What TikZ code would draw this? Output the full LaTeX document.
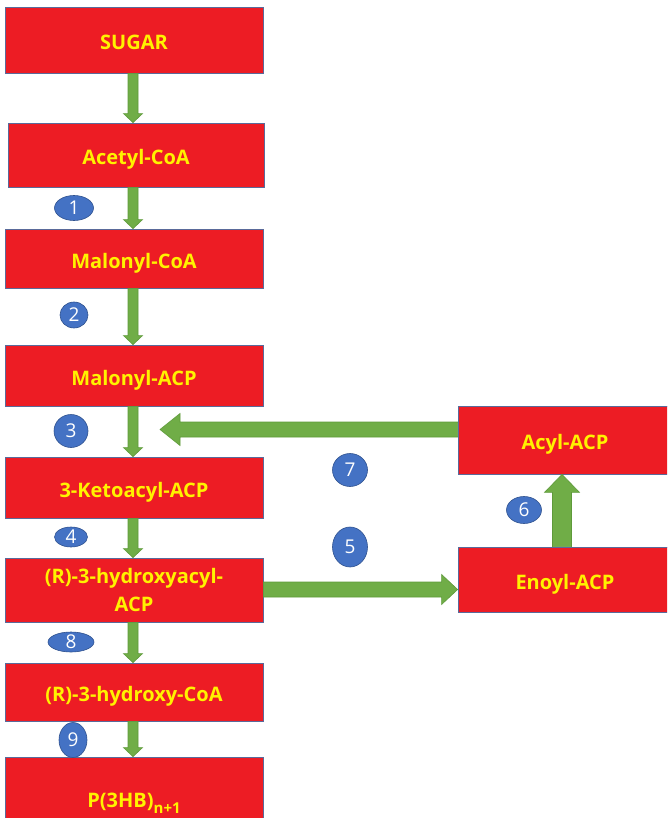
\documentclass[tikz,border=0pt]{standalone}
\usepackage{fontspec}
\setmainfont{Open Sans}
\usetikzlibrary{calc,shapes.geometric}

\definecolor{boxred}{HTML}{ED1C24}
\definecolor{boxline}{HTML}{5A6A9A}
\definecolor{txtyellow}{HTML}{FFF200}
\definecolor{arrgreen}{HTML}{70AD47}
\definecolor{arrline}{HTML}{5E9A3A}
\definecolor{stepblue}{HTML}{4472C4}
\definecolor{stepline}{HTML}{2F528F}

\tikzset{
  pathbox/.style={draw=boxline, line width=0.8pt, fill=boxred, text=txtyellow,
    font=\fontsize{20}{28}\selectfont\bfseries, align=center, inner sep=0pt},
  oneline/.style={text height=19pt, text depth=0pt},
  enzyme/.style={ellipse, draw=stepline, line width=0.6pt, fill=stepblue, text=white,
    font=\fontsize{19}{19}\selectfont, inner sep=0pt},
  blockarrow/.style={draw=arrline, line width=0.6pt, fill=arrgreen, line join=miter},
}

% block arrow pointing down: start point, tip point, shaft half width, head half width, head length
\newcommand\arrowdown[5]{%
  \draw[blockarrow] let \p1=#1, \p2=#2 in
    (\x2-#3,\y1) -- (\x2-#3,\y2+#5) -- (\x2-#4,\y2+#5) -- (\x2,\y2)
    -- (\x2+#4,\y2+#5) -- (\x2+#3,\y2+#5) -- (\x2+#3,\y1) -- cycle;}
% block arrow pointing up
\newcommand\arrowup[5]{%
  \draw[blockarrow] let \p1=#1, \p2=#2 in
    (\x2-#3,\y1) -- (\x2-#3,\y2-#5) -- (\x2-#4,\y2-#5) -- (\x2,\y2)
    -- (\x2+#4,\y2-#5) -- (\x2+#3,\y2-#5) -- (\x2+#3,\y1) -- cycle;}
% block arrow pointing right
\newcommand\arrowright[5]{%
  \draw[blockarrow] let \p1=#1, \p2=#2 in
    (\x1,\y2-#3) -- (\x2-#5,\y2-#3) -- (\x2-#5,\y2-#4) -- (\x2,\y2)
    -- (\x2-#5,\y2+#4) -- (\x2-#5,\y2+#3) -- (\x1,\y2+#3) -- cycle;}
% block arrow pointing left
\newcommand\arrowleft[5]{%
  \draw[blockarrow] let \p1=#1, \p2=#2 in
    (\x1,\y2-#3) -- (\x2+#5,\y2-#3) -- (\x2+#5,\y2-#4) -- (\x2,\y2)
    -- (\x2+#5,\y2+#4) -- (\x2+#5,\y2+#3) -- (\x1,\y2+#3) -- cycle;}

\begin{document}
\begin{tikzpicture}[x=1pt, y=-1pt]
  \clip (0,0) rectangle (667,818);
  \fill[white] (0,0) rectangle (667,818);

  % main pathway column
  \node[pathbox, oneline, minimum width=258pt, minimum height=66pt] (sugar)   at (134,40)    {SUGAR};
  \node[pathbox, oneline, minimum width=256pt, minimum height=64pt] (acetyl)  at (136,155)   {Acetyl-CoA};
  \node[pathbox, oneline, minimum width=258pt, minimum height=59pt] (malcoa)  at (134,258.5) {Malonyl-CoA};
  \node[pathbox, oneline, minimum width=258pt, minimum height=61pt] (malacp)  at (134,375.5) {Malonyl-ACP};
  \node[pathbox, oneline, minimum width=258pt, minimum height=61pt] (keto)    at (134,487.5) {3-Ketoacyl-ACP};
  \node[pathbox, minimum width=258pt, minimum height=64pt] (hydacp)  at (134,590)   {(R)-3-hydroxyacyl-\\ACP};
  \node[pathbox, oneline, minimum width=258pt, minimum height=58pt] (hydcoa)  at (134,692)   {(R)-3-hydroxy-CoA};
  \node[pathbox, oneline, minimum width=258pt, minimum height=82pt] (phb)     at (134,798)
    {P(3HB)\raisebox{-6pt}{\fontsize{15}{15}\selectfont\bfseries n+1}};

  % fatty acid cycle branch
  \node[pathbox, oneline, minimum width=214pt, minimum height=68pt] (acyl)    at (565,440)   {Acyl-ACP};
  \node[pathbox, oneline, minimum width=214pt, minimum height=65pt] (enoyl)   at (565,579.5) {Enoyl-ACP};

  % vertical flow arrows
  \arrowdown{($(sugar.south)+(-1,0)$)}{($(acetyl.north)+(-3,0)$)}{5}{9.5}{9}
  \arrowdown{($(acetyl.south)+(-3,0)$)}{($(malcoa.north)+(-1,0)$)}{5}{9.5}{9}
  \arrowdown{($(malcoa.south)+(-1,0)$)}{($(malacp.north)+(-1,0)$)}{5}{9.5}{9}
  \arrowdown{($(malacp.south)+(-1,0)$)}{($(keto.north)+(-1,0)$)}{5}{9.5}{9}
  \arrowdown{($(keto.south)+(-1,0)$)}{($(hydacp.north)+(-1,0)$)}{5}{9.5}{9}
  \arrowdown{($(hydacp.south)+(-1,0)$)}{($(hydcoa.north)+(-1,0)$)}{5}{9.5}{9}
  \arrowdown{($(hydcoa.south)+(-1,0)$)}{($(phb.north)+(-1,0)$)}{5}{9.5}{9}

  % cycle arrows
  \coordinate (reentry) at (160,429.5);
  \arrowleft{($(acyl.west)+(0,-10.5)$)}{(reentry)}{7.5}{16}{20}
  \arrowright{(hydacp.east)}{($(enoyl.west)+(0,10)$)}{7.5}{15}{16}
  \arrowup{($(enoyl.north)+(-3,0)$)}{($(acyl.south)+(-3,0)$)}{9.5}{17.5}{18}

  % enzyme step markers
  \node[enzyme, minimum width=39pt, minimum height=25pt] (e1) at (74,208)   {1};
  \node[enzyme, minimum width=28pt, minimum height=26pt] (e2) at (74,315)   {2};
  \node[enzyme, minimum width=34pt, minimum height=33pt] (e3) at (71,431)   {3};
  \node[enzyme, minimum width=33pt, minimum height=20pt] (e4) at (71,537)   {4};
  \node[enzyme, minimum width=35pt, minimum height=40pt] (e5) at (350,547)  {5};
  \node[enzyme, minimum width=35pt, minimum height=27pt] (e6) at (524,510)  {6};
  \node[enzyme, minimum width=35pt, minimum height=33pt] (e7) at (350,470)  {7};
  \node[enzyme, minimum width=46pt, minimum height=20pt] (e8) at (71,642)   {8};
  \node[enzyme, minimum width=28pt, minimum height=35pt] (e9) at (73,740)   {9};
\end{tikzpicture}
\end{document}
